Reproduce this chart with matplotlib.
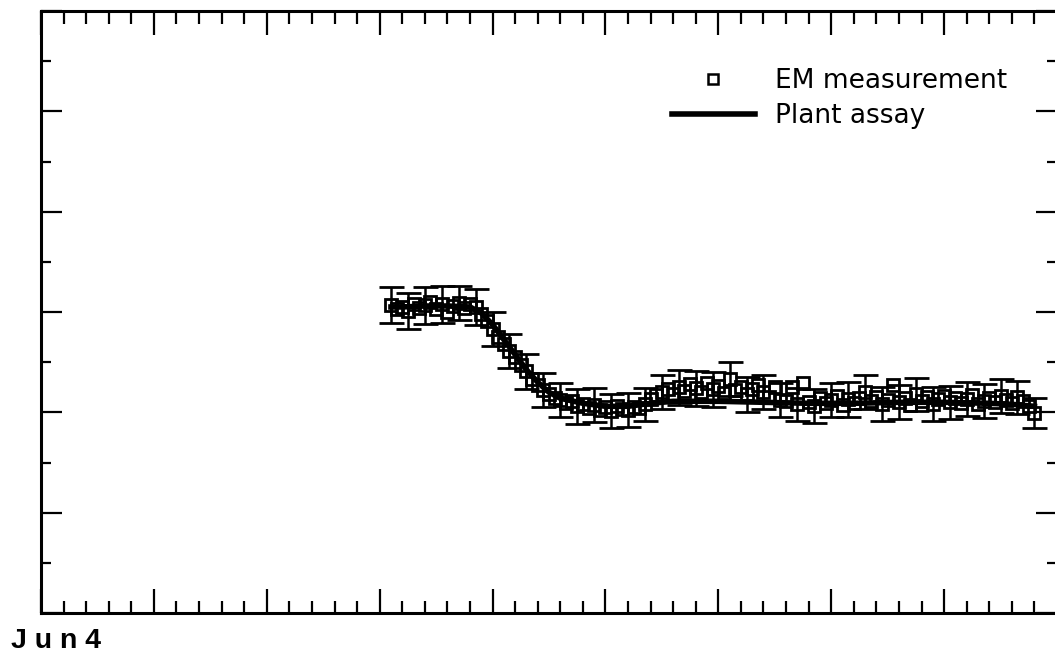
import matplotlib
matplotlib.use("Agg")
import matplotlib.pyplot as plt
from matplotlib.lines import Line2D
from matplotlib.ticker import MultipleLocator

# ---- data (x in days from Jun 4, y in arbitrary plot units) ----
em_days = [15.50, 15.75,
           16.00, 16.25, 16.50, 16.75, 17.00, 17.25, 17.50, 17.75,
           18.00, 18.25, 18.50, 18.75, 19.00, 19.25, 19.50, 19.75,
           20.00, 20.25, 20.50, 20.75, 21.00, 21.25, 21.50, 21.75,
           22.00, 22.25, 22.50, 22.75, 23.00, 23.25, 23.50, 23.75,
           24.00, 24.25, 24.50, 24.75, 25.00, 25.25, 25.50, 25.75,
           26.00, 26.25, 26.50, 26.75, 27.00, 27.25, 27.50, 27.75,
           28.00, 28.25, 28.50, 28.75, 29.00, 29.25, 29.50, 29.75,
           30.00, 30.25, 30.50, 30.75, 31.00, 31.25, 31.50, 31.75,
           32.00, 32.25, 32.50, 32.75, 33.00, 33.25, 33.50, 33.75,
           34.00, 34.25, 34.50, 34.75, 35.00, 35.25, 35.50, 35.75,
           36.00, 36.25, 36.50, 36.75, 37.00, 37.25, 37.50, 37.75,
           38.00, 38.25, 38.50, 38.75, 39.00, 39.25, 39.50, 39.75,
           40.00, 40.25, 40.50, 40.75, 41.00, 41.25, 41.50, 41.75,
           42.00, 42.25, 42.50, 42.75, 43.00, 43.25, 43.50, 43.75,
           44.00]
em_values = [6.14, 6.05,
             6.10, 6.02, 6.16, 6.08, 6.13, 6.20, 6.06, 6.15,
             6.00, 6.12, 6.18, 6.07, 6.16, 6.10, 5.96, 5.82,
             5.66, 5.50, 5.36, 5.22, 5.10, 4.95, 4.82, 4.66,
             4.55, 4.44, 4.36, 4.28, 4.25, 4.18, 4.22, 4.12,
             4.16, 4.08, 4.14, 4.05, 4.10, 4.02, 4.12, 4.06,
             4.04, 4.10, 4.08, 4.16, 4.26, 4.34, 4.40, 4.46,
             4.36, 4.50, 4.42, 4.56, 4.48, 4.40, 4.58, 4.46,
             4.52, 4.38, 4.66, 4.44, 4.50, 4.36, 4.46, 4.54,
             4.40, 4.30, 4.50, 4.24, 4.22, 4.50, 4.16, 4.58,
             4.20, 4.12, 4.28, 4.18, 4.24, 4.32, 4.14, 4.26,
             4.18, 4.28, 4.40, 4.22, 4.30, 4.16, 4.24, 4.55,
             4.20, 4.28, 4.14, 4.36, 4.22, 4.30, 4.16, 4.26,
             4.32, 4.20, 4.28, 4.18, 4.26, 4.34, 4.16, 4.22,
             4.28, 4.20, 4.32, 4.24, 4.18, 4.30, 4.22, 4.12,
             3.98]
em_errors = [0.36, 0.34,
             0.36, 0.35, 0.37, 0.34, 0.36, 0.38, 0.35, 0.36,
             0.36, 0.35, 0.34, 0.36, 0.38, 0.36, 0.35, 0.34,
             0.34, 0.33, 0.35, 0.34, 0.34, 0.33, 0.35, 0.34,
             0.33, 0.34, 0.33, 0.35, 0.34, 0.33, 0.34, 0.35,
             0.34, 0.33, 0.34, 0.35, 0.33, 0.34, 0.33, 0.34,
             0.34, 0.35, 0.34, 0.33, 0.34, 0.35, 0.34, 0.33,
             0.34, 0.35, 0.36, 0.34, 0.35, 0.34, 0.36, 0.35,
             0.36, 0.35, 0.34, 0.35, 0.34, 0.35, 0.33, 0.34,
             0.34, 0.33, 0.35, 0.34, 0.34, 0.35, 0.33, 0.34,
             0.33, 0.34, 0.33, 0.35, 0.34, 0.33, 0.34, 0.35,
             0.34, 0.33, 0.34, 0.35, 0.33, 0.34, 0.33, 0.34,
             0.34, 0.35, 0.34, 0.33, 0.34, 0.35, 0.34, 0.33,
             0.34, 0.33, 0.35, 0.34, 0.34, 0.35, 0.33, 0.34,
             0.34, 0.33, 0.34, 0.35, 0.34, 0.33, 0.34, 0.35,
             0.30]

assay_days = [15.5, 16.0, 17.0, 18.0, 19.0, 19.5, 20.0, 20.5, 21.0, 21.5,
              22.0, 22.5, 23.0, 24.0, 25.0, 26.0, 27.0, 28.0, 30.0, 32.0,
              34.0, 36.0, 38.0, 40.0, 42.0, 43.0, 44.0]
assay_values = [6.10, 6.10, 6.12, 6.12, 6.10, 5.98, 5.75, 5.45, 5.15, 4.85,
                4.60, 4.40, 4.28, 4.18, 4.12, 4.12, 4.18, 4.22, 4.22, 4.20,
                4.18, 4.18, 4.20, 4.20, 4.18, 4.16, 4.12]

date_label = "Jun4"
legend_labels = ["EM measurement", "Plant assay"]

# ---- figure ----
W, H = 1055, 653
fig = plt.figure(figsize=(W / 100, H / 100), dpi=100)
fig.patch.set_facecolor("white")
ax = fig.add_axes([41 / W, 40 / H, 1016 / W, 602 / H])

ax.errorbar(em_days, em_values, yerr=em_errors, fmt="s", mfc="none",
            mec="black", mew=2.0, ms=8.5, ecolor="black", elinewidth=1.8,
            capsize=9, capthick=2.0, errorevery=3, zorder=3)
ax.plot(assay_days, assay_values, color="black", lw=4, zorder=4)

ax.set_xlim(0, 45)
ax.set_ylim(0, 12)
ax.xaxis.set_major_locator(MultipleLocator(5))
ax.xaxis.set_minor_locator(MultipleLocator(1))
ax.yaxis.set_major_locator(MultipleLocator(2))
ax.yaxis.set_minor_locator(MultipleLocator(1))
ax.tick_params(which="both", direction="in", top=True, right=True,
               bottom=True, left=True, labelbottom=False, labelleft=False,
               width=1.6, color="black")
ax.tick_params(axis="x", which="major", length=17)
ax.tick_params(axis="x", which="minor", length=9)
ax.tick_params(axis="y", which="major", length=15)
ax.tick_params(axis="y", which="minor", length=7.5)
for s in ax.spines.values():
    s.set_linewidth(2.2)
    s.set_color("black")

handles = [
    Line2D([], [], marker="s", ls="none", mfc="none", mec="black", mew=1.8, ms=7),
    Line2D([], [], color="black", lw=4),
]
fig.legend(handles, legend_labels, loc="upper left",
           bbox_to_anchor=(672 / W, 1 - 68 / H), frameon=False,
           prop={"family": "DejaVu Sans", "size": 19}, borderpad=0,
           borderaxespad=0, handlelength=3.14, handletextpad=0.76,
           labelspacing=0.35)

fig.text(11 / W, 5 / H, " ".join(date_label), fontsize=20.5, fontweight="bold",
         family="Liberation Sans", va="baseline", ha="left")

fig.savefig("out.png", dpi=100, facecolor="white")
